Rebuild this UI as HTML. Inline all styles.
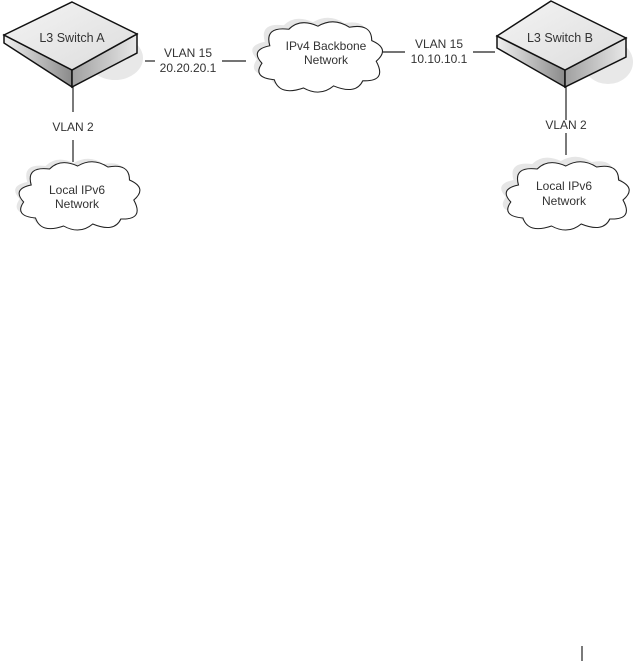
<!DOCTYPE html>
<html><head><meta charset="utf-8"><style>
html,body{margin:0;padding:0;background:#fff;}
svg{display:block;}
text{font-family:"Liberation Sans",Arial,sans-serif;font-size:12px;fill:#333;text-anchor:middle;}
</style></head><body>
<svg width="641" height="661" viewBox="0 0 641 661" xmlns="http://www.w3.org/2000/svg">
<defs>
<path id="cl" d="M15,25 Q10,6 32,9 Q42,-2 58,6 Q72,-3 86,7 Q106,3 106,20 Q123,28 110,40 Q120,60 98,59 Q92,73 72,64 Q60,75 45,66 Q24,74 19,58 Q-1,56 8,42 Q-3,29 15,25 Z"/>
<linearGradient id="gl" x1="0" y1="0" x2="1" y2="0"><stop offset="0" stop-color="#f0f0f0"/><stop offset="1" stop-color="#8a8a8a"/></linearGradient>
<linearGradient id="gr" x1="0" y1="0" x2="1" y2="0"><stop offset="0" stop-color="#a0a0a0"/><stop offset="1" stop-color="#e8e8e8"/></linearGradient>
<linearGradient id="gt" x1="0" y1="0" x2="1" y2="1"><stop offset="0" stop-color="#f4f4f4"/><stop offset="1" stop-color="#dcdcdc"/></linearGradient>
</defs>

<g stroke="#222" stroke-width="1.2">
<line x1="145" y1="61" x2="155" y2="61"/><line x1="222" y1="61" x2="246" y2="61"/>
<line x1="73" y1="87" x2="73" y2="112"/><line x1="73" y1="140" x2="73" y2="162"/>
<line x1="383" y1="52" x2="405" y2="52"/><line x1="473" y1="52" x2="495" y2="52"/>
<line x1="566" y1="87" x2="566" y2="120"/><line x1="566" y1="133" x2="566" y2="155"/>
<line x1="582" y1="646" x2="582" y2="661"/>
</g>

<g>
<ellipse cx="115" cy="58" rx="28" ry="22" fill="#e8e8e8"/>
<polygon points="4,35 72,70 72,87 4,43" fill="url(#gl)" stroke="#111" stroke-width="1.5"/>
<polygon points="72,70 137,34 137,53 72,87" fill="url(#gr)" stroke="#111" stroke-width="1.5"/>
<polygon points="72,2 137,34 72,70 4,35" fill="url(#gt)" stroke="#111" stroke-width="1.5"/>
<text x="72" y="42" style="font-size:12.5px">L3 Switch A</text>
</g>
<g>
<ellipse cx="608" cy="62" rx="25" ry="22" fill="#e8e8e8"/>
<polygon points="497,36 565,70 565,87 497,48" fill="url(#gl)" stroke="#111" stroke-width="1.5"/>
<polygon points="565,70 626,38 626,57 565,87" fill="url(#gr)" stroke="#111" stroke-width="1.5"/>
<polygon points="551,1 626,38 565,70 497,36" fill="url(#gt)" stroke="#111" stroke-width="1.5"/>
<text x="560" y="42" style="font-size:12.5px">L3 Switch B</text>
</g>

<use href="#cl" transform="translate(248,16) scale(1.12,1.03)" fill="#e6e6e6"/>
<use href="#cl" transform="translate(253,20) scale(1.12,1.03)" fill="#fff" stroke="#222" stroke-width="1"/>
<text x="326" y="50">IPv4 Backbone</text><text x="326" y="64">Network</text>

<use href="#cl" transform="translate(11,157) scale(1.08,1.0)" fill="#e6e6e6"/>
<use href="#cl" transform="translate(15,160) scale(1.08,1.0)" fill="#fff" stroke="#222" stroke-width="1"/>
<text x="77" y="194">Local IPv6</text><text x="77" y="208">Network</text>

<use href="#cl" transform="translate(497,155) scale(1.1,1.0)" fill="#e6e6e6"/>
<use href="#cl" transform="translate(502,160) scale(1.1,1.0)" fill="#fff" stroke="#222" stroke-width="1"/>
<text x="564" y="190">Local IPv6</text><text x="564" y="205">Network</text>

<text x="188" y="57">VLAN 15</text><text x="188" y="72">20.20.20.1</text>
<text x="439" y="48">VLAN 15</text><text x="439" y="63">10.10.10.1</text>
<text x="73" y="131">VLAN 2</text>
<text x="566" y="129">VLAN 2</text>
</svg>
</body></html>
